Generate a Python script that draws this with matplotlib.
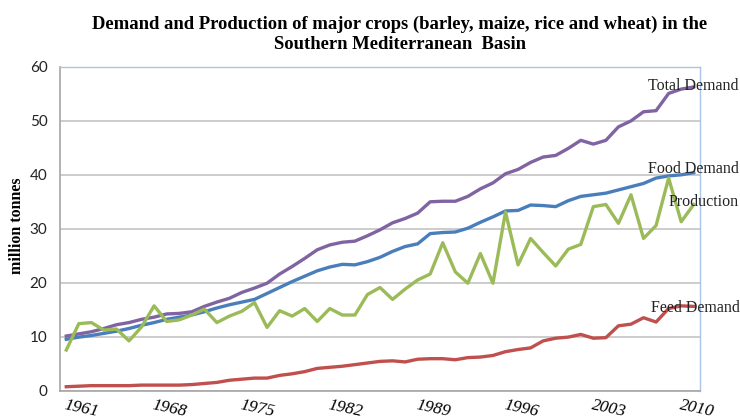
import matplotlib
matplotlib.use("Agg")
import matplotlib.pyplot as plt
import numpy as np

# crop balance 1961-2011, million tonnes
years = list(range(1961, 2012))
total_demand = [10.1, 10.5, 10.9, 11.5, 12.2, 12.6, 13.2, 13.6, 14.2, 14.3,
                14.6, 15.6, 16.4, 17.1, 18.2, 19.0, 19.9, 21.6, 23.0, 24.5,
                26.1, 27.0, 27.5, 27.7, 28.7, 29.8, 31.1, 31.9, 32.9, 35.0,
                35.1, 35.1, 36.0, 37.4, 38.5, 40.2, 41.0, 42.3, 43.3, 43.6,
                44.9, 46.4, 45.7, 46.4, 48.9, 50.0, 51.7, 51.9, 55.1, 55.9, 56.3]
food_demand = [9.5, 9.9, 10.2, 10.6, 11.0, 11.5, 12.1, 12.6, 13.2, 13.6,
               14.0, 14.6, 15.3, 15.9, 16.4, 16.9, 18.0, 19.1, 20.2, 21.2,
               22.2, 22.9, 23.4, 23.3, 23.9, 24.7, 25.8, 26.7, 27.2, 29.1,
               29.3, 29.4, 30.1, 31.2, 32.2, 33.3, 33.4, 34.4, 34.3, 34.1,
               35.2, 36.0, 36.3, 36.6, 37.2, 37.8, 38.4, 39.4, 39.8, 40.0, 40.4]
production = [7.5, 12.4, 12.6, 11.2, 11.4, 9.2, 11.8, 15.7, 12.8, 13.1,
              14.0, 15.1, 12.6, 13.8, 14.7, 16.3, 11.7, 14.8, 13.8, 15.2,
              12.8, 15.2, 14.0, 14.0, 17.8, 19.1, 16.9, 18.8, 20.5, 21.6,
              27.4, 22.0, 19.9, 25.4, 19.9, 33.1, 23.3, 28.2, 25.6, 23.1,
              26.2, 27.1, 34.1, 34.5, 31.0, 36.3, 28.2, 30.6, 39.4, 31.3, 34.5]
feed_demand = [0.7, 0.8, 0.9, 0.9, 0.9, 0.9, 1.0, 1.0, 1.0, 1.0,
               1.1, 1.3, 1.5, 1.9, 2.1, 2.3, 2.3, 2.8, 3.1, 3.5,
               4.1, 4.3, 4.5, 4.8, 5.1, 5.4, 5.5, 5.3, 5.8, 5.9,
               5.9, 5.7, 6.1, 6.2, 6.5, 7.2, 7.6, 7.9, 9.2, 9.7,
               9.9, 10.4, 9.7, 9.8, 12.0, 12.3, 13.5, 12.7, 15.2, 15.7, 15.6]

series_names = ["Total Demand", "Food Demand", "Production", "Feed Demand"]
series_colors = ["#8064A2", "#4A7EBB", "#9BBB59", "#C0504D"]
tick_years = [1961, 1968, 1975, 1982, 1989, 1996, 2003, 2010]
title_lines = ["Demand and Production of major crops (barley, maize, rice and wheat) in the",
               "Southern Mediterranean  Basin"]

W, H = 740, 419
fig = plt.figure(figsize=(W / 100, H / 100), dpi=100)
ax = fig.add_axes([60 / W, 1 - 390.5 / H, 640 / W, 323.5 / H])

x = np.arange(len(years))
data = [total_demand, food_demand, production, feed_demand]
for vals, name, col in zip(data, series_names, series_colors):
    ax.plot(x, vals, color=col, lw=2.4, solid_joinstyle="round", label=name, zorder=3)

ax.set_xlim(-0.5, len(years) - 0.5)
ax.set_ylim(0, 60)
ax.set_yticks(range(0, 61, 10))
ax.yaxis.grid(True, color="#C8C8C8", lw=1.3, zorder=0)
ax.set_axisbelow(True)

ax.set_xticks([years.index(y) for y in tick_years])
ax.set_xticklabels([str(y) for y in tick_years], rotation=-12, ha="left", va="top",
                   rotation_mode="anchor", family="Liberation Serif", style="italic",
                   fontsize=12.5)
for lab in ax.get_yticklabels():
    lab.set_family("Lato")
    lab.set_fontsize(11)
    lab.set_color("#222222")
ax.tick_params(axis="both", length=0)
ax.tick_params(axis="y", pad=9)
ax.tick_params(axis="x", pad=5)

for side in ["left", "bottom"]:
    ax.spines[side].set_color("#A6A6A6")
    ax.spines[side].set_linewidth(1.2)
for side in ["top", "right"]:
    ax.spines[side].set_color("#A9C4E8")
    ax.spines[side].set_linewidth(1.0)

ax.set_ylabel("million tonnes", family="Liberation Serif", fontweight="bold",
              fontsize=11.5)
ax.yaxis.set_label_coords(-0.055, 0.51)

# series names at the right end of each line
label_pos = {"Total Demand": (648, 86), "Food Demand": (648, 169),
             "Production": (669, 202), "Feed Demand": (651, 308)}
for name in series_names:
    px, py = label_pos[name]
    fig.text(px / W, 1 - py / H, name, ha="left", va="center",
             family="Liberation Serif", fontsize=11.5, color="#222222", zorder=5)

for line, base in zip(title_lines, [29, 49]):
    fig.text(400 / W, 1 - base / H, line, ha="center", va="baseline",
             family="Liberation Serif", fontweight="bold", fontsize=13.4)

fig.savefig("out.png", dpi=100)
